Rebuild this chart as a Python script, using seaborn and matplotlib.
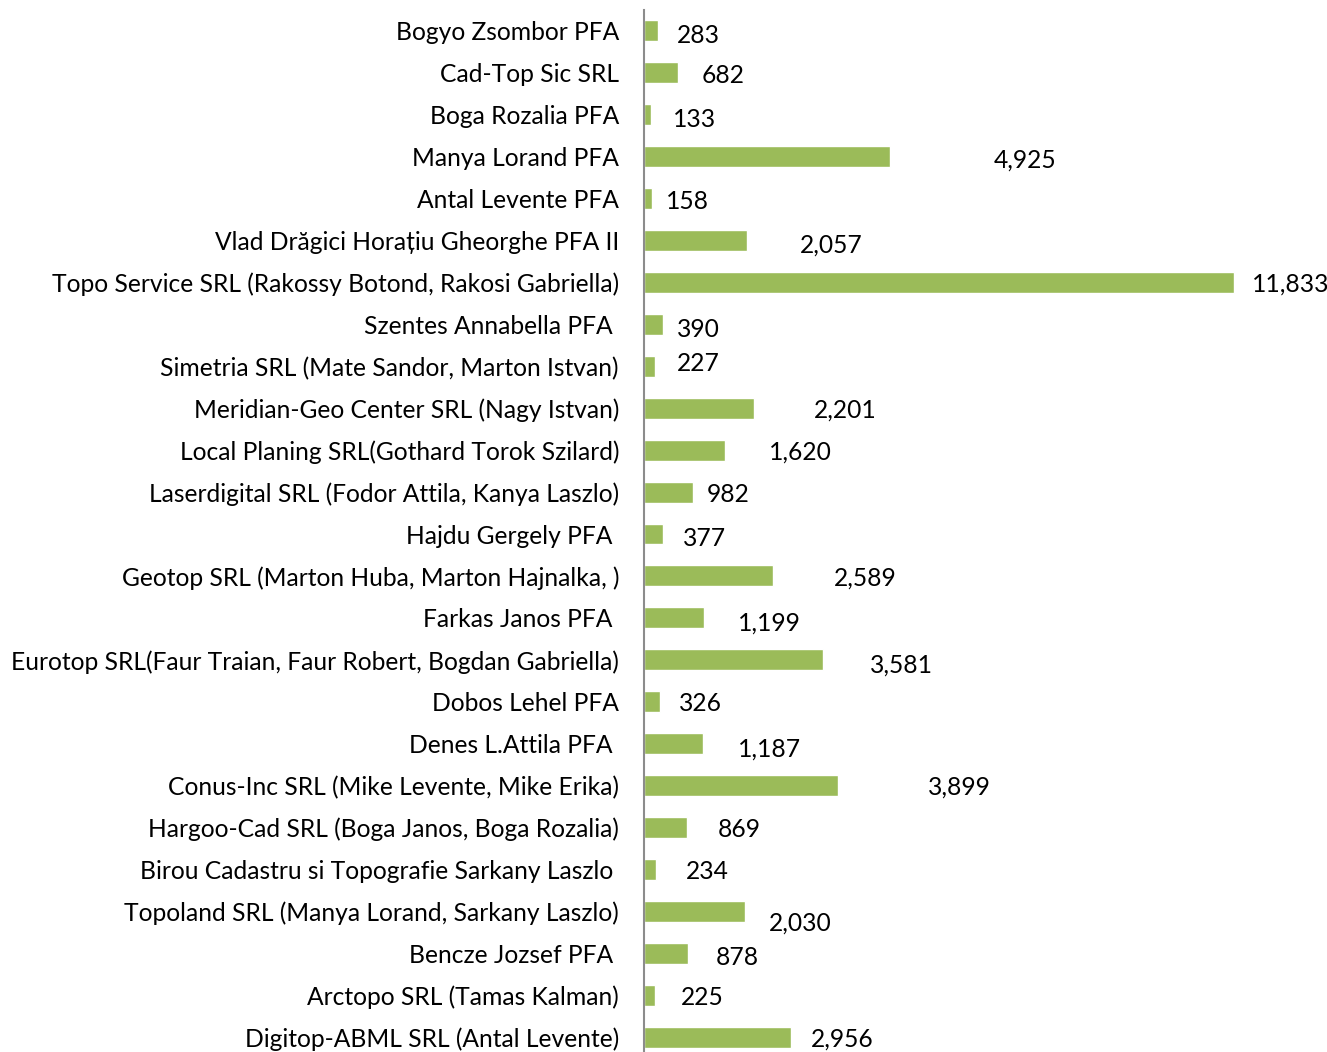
import numpy as np
import pandas as pd
import matplotlib
matplotlib.use("Agg")
import matplotlib.pyplot as plt
import seaborn as sns

# ------------------------------------------
# DATA
# ------------------------------------------
companies = [
    "Bogyo Zsombor PFA",
    "Cad-Top Sic SRL",
    "Boga Rozalia PFA",
    "Manya Lorand PFA",
    "Antal Levente PFA",
    "Vlad Drăgici Horațiu Gheorghe PFA II",
    "Topo Service SRL (Rakossy Botond, Rakosi Gabriella)",
    "Szentes Annabella PFA ",
    "Simetria SRL (Mate Sandor, Marton Istvan)",
    "Meridian-Geo Center SRL (Nagy Istvan)",
    "Local Planing SRL(Gothard Torok Szilard)",
    "Laserdigital SRL (Fodor Attila, Kanya Laszlo)",
    "Hajdu Gergely PFA ",
    "Geotop SRL (Marton Huba, Marton Hajnalka, )",
    "Farkas Janos PFA ",
    "Eurotop SRL(Faur Traian, Faur Robert, Bogdan Gabriella)",
    "Dobos Lehel PFA",
    "Denes L.Attila PFA ",
    "Conus-Inc SRL (Mike Levente, Mike Erika)",
    "Hargoo-Cad SRL (Boga Janos, Boga Rozalia)",
    "Birou Cadastru si Topografie Sarkany Laszlo ",
    "Topoland SRL (Manya Lorand, Sarkany Laszlo)",
    "Bencze Jozsef PFA ",
    "Arctopo SRL (Tamas Kalman)",
    "Digitop-ABML SRL (Antal Levente)",
]
values = [283, 682, 133, 4925, 158, 2057, 11833, 390, 227, 2201, 1620, 982,
          377, 2589, 1199, 3581, 326, 1187, 3899, 869, 234, 2030, 878, 225, 2956]

# label nudges (pixels) as placed in the original chart
label_dx = [19, 24, 22, 104, 14, 53, 18, 14, 22, 60, 44, 14,
            20, 61, 34, 47, 19, 35, 90, 30, 30, 24, 28, 26, 20]
label_dy = [-3, -1, -3, -1, -1, -3, 0, -3, 5, 0, 0, 0,
            -3, 0, -3, -3, 0, -3, 0, 0, 0, -10, -2, 0, 0]

BAR_COLOR = "#9BBB59"
FONT_SIZE = 17.7

# ------------------------------------------
# PLOT
# ------------------------------------------
sns.set_theme(style="white")
plt.rcParams["font.family"] = ["Lato", "DejaVu Sans"]

df = pd.DataFrame({"company": companies, "value": values})

W, H = 1327, 1052
fig = plt.figure(figsize=(W / 100, H / 100), dpi=100)
ax = fig.add_axes([644 / W, (H - 1058) / H, 673 / W, 1048 / H])

sns.barplot(data=df, x="value", y="company", orient="h", color=BAR_COLOR,
            saturation=1, width=0.5, ax=ax)

ax.set_xlim(0, 13500)
ax.set_ylim(len(companies) - 0.5, -0.5)
ax.set_xlabel("")
ax.set_ylabel("")
ax.set_xticks([])
ax.tick_params(axis="y", length=0, pad=18, labelsize=FONT_SIZE, labelcolor="black")

for side in ["top", "right", "bottom"]:
    ax.spines[side].set_visible(False)
ax.spines["left"].set_color("#8C8C8C")
ax.spines["left"].set_linewidth(1.5)

for i, v in enumerate(values):
    ax.annotate(f"{v:,}", xy=(v, i), xytext=(label_dx[i], label_dy[i] - 2),
                textcoords="offset pixels", ha="left", va="center",
                fontsize=FONT_SIZE, color="black", annotation_clip=False)

fig.savefig("out.png", dpi=100)
